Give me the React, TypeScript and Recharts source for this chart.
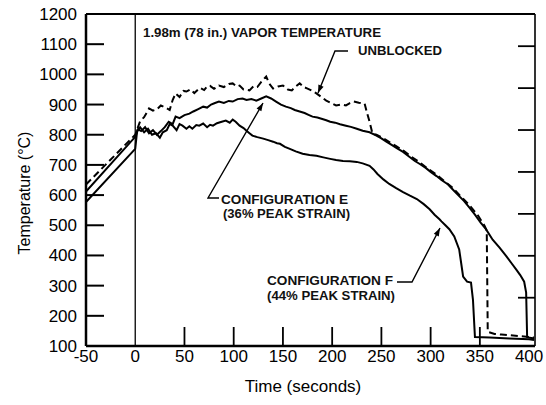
import React from 'react';
import { LineChart, Line, XAxis, YAxis, ReferenceLine } from 'recharts';

const timeTicks = [-50, 0, 50, 100, 150, 200, 250, 300, 350, 400];
const innerTimeTicks = [50, 100, 150, 200, 250, 300, 350];
const tempTicks = [100, 200, 300, 400, 500, 600, 700, 800, 900, 1000, 1100, 1200];
const fahrenheitTicks = [500, 750, 1000, 1250, 1500, 1750, 2000];

const unblocked: [number, number][] = [
  [-50, 635], [0, 800], [2, 818], [5, 845], [9, 858], [14, 887], [18, 880], [22, 884], [26, 897], [31, 890],
  [35, 882], [38, 915], [41, 937], [45, 925], [49, 945], [52, 943], [56, 950], [60, 938], [63, 947], [66, 955],
  [70, 948], [73, 960], [76, 962], [80, 952], [85, 963], [90, 958], [95, 968], [99, 970], [103, 960], [106, 963],
  [110, 950], [116, 947], [120, 960], [124, 958], [128, 975], [133, 993], [136, 970], [140, 953], [145, 960],
  [150, 963], [155, 950], [159, 947], [163, 960], [167, 970], [171, 958], [175, 953], [180, 945], [184, 937],
  [189, 925], [194, 913], [199, 905], [204, 897], [209, 900], [214, 897], [218, 905], [222, 910], [227, 906],
  [233, 903], [235, 877], [238, 843], [241, 803], [245, 800], [250, 792], [255, 782], [260, 772], [265, 762],
  [272, 748], [280, 728], [289, 708], [297, 688], [306, 668], [314, 646], [322, 625], [330, 598], [339, 568],
  [348, 533], [355, 497], [357, 482], [358, 147], [365, 140], [372, 138], [380, 136], [390, 133], [400, 130], [405, 128],
];

const configE: [number, number][] = [
  [-50, 612], [0, 793], [3, 818], [6, 812], [10, 825], [14, 805], [18, 815], [22, 800], [26, 812], [30, 825],
  [34, 843], [38, 835], [41, 860], [45, 855], [50, 865], [55, 870], [59, 877], [64, 885], [69, 893], [73, 890],
  [77, 900], [81, 905], [85, 910], [90, 905], [95, 912], [99, 910], [104, 918], [109, 920], [113, 915], [118, 918],
  [123, 913], [128, 920], [133, 927], [138, 920], [143, 910], [148, 900], [153, 893], [158, 888], [162, 882],
  [167, 877], [172, 872], [176, 866], [180, 860], [185, 857], [190, 852], [194, 848], [198, 843], [203, 840],
  [208, 835], [214, 830], [219, 826], [225, 820], [231, 813], [238, 808], [245, 797], [250, 788], [255, 777],
  [260, 767], [266, 755], [272, 743], [278, 728], [284, 713], [289, 703], [295, 690], [300, 677], [306, 663],
  [311, 650], [317, 637], [322, 620], [328, 600], [334, 580], [339, 560], [345, 535], [351, 508], [356, 488],
  [363, 452], [370, 426], [377, 397], [382, 375], [387, 353], [391, 335], [395, 313], [397, 277], [398, 130],
  [401, 127], [405, 125],
];

const configF: [number, number][] = [
  [-50, 577], [0, 753], [2, 815], [5, 825], [9, 808], [13, 820], [17, 800], [21, 805], [25, 790], [28, 808],
  [32, 815], [35, 835], [38, 830], [42, 815], [45, 835], [48, 830], [52, 820], [55, 828], [58, 820], [62, 832],
  [65, 830], [69, 837], [73, 825], [76, 833], [79, 830], [83, 838], [87, 842], [92, 847], [96, 840], [99, 850],
  [102, 843], [106, 830], [110, 822], [113, 813], [116, 805], [119, 797], [124, 792], [130, 787], [135, 782],
  [140, 777], [144, 772], [147, 770], [152, 760], [157, 753], [163, 745], [170, 737], [177, 733], [184, 730],
  [191, 725], [198, 720], [204, 716], [211, 713], [218, 712], [225, 710], [231, 705], [238, 697], [242, 685],
  [246, 670], [252, 652], [258, 637], [265, 623], [272, 610], [279, 598], [286, 587], [293, 570], [299, 553],
  [304, 535], [309, 520], [311, 513], [315, 500], [319, 487], [324, 463], [329, 420], [331, 375], [333, 330],
  [337, 313], [341, 310], [343, 253], [345, 130], [360, 128], [380, 125], [400, 122], [405, 120],
];

const rows = (pairs: [number, number][]) => pairs.map(([t, v]) => ({ t, v }));

const FONT = '"Liberation Sans", Arial, sans-serif';

const LeftTick = (props: any) => {
  const { x, y, payload } = props;
  return (
    <g>
      <line x1={x} x2={x + 18} y1={y} y2={y} stroke="#000" strokeWidth={2} />
      <text x={x - 9} y={y + 6} textAnchor="end" fontFamily={FONT} fontSize={17} fill="#000">
        {payload.value}
      </text>
    </g>
  );
};

const BottomTick = (props: any) => {
  const { x, y, payload } = props;
  const inner = innerTimeTicks.includes(payload.value);
  return (
    <g>
      {inner && <line x1={x} x2={x} y1={y} y2={y - 19} stroke="#000" strokeWidth={1.8} />}
      <text x={x} y={y + 16} textAnchor="middle" fontFamily={FONT} fontSize={17} fill="#000">
        {payload.value}
      </text>
    </g>
  );
};

const RightTick = (props: any) => {
  const { x, y } = props;
  return <line x1={x} x2={x - 17} y1={y} y2={y} stroke="#000" strokeWidth={1.8} />;
};

const Leader = ({ pts }: { pts: [number, number][] }) => {
  const [x1, y1] = pts[pts.length - 2];
  const [x2, y2] = pts[pts.length - 1];
  const dx = x2 - x1;
  const dy = y2 - y1;
  const len = Math.hypot(dx, dy);
  const ux = dx / len;
  const uy = dy / len;
  const hl = 8;
  const hw = 2.8;
  const bx = x2 - ux * hl;
  const by = y2 - uy * hl;
  const head = `${x2},${y2} ${bx - uy * hw},${by + ux * hw} ${bx + uy * hw},${by - ux * hw}`;
  return (
    <g>
      <polyline points={pts.map((p) => p.join(',')).join(' ')} fill="none" stroke="#000" strokeWidth={1.4} />
      <polygon points={head} fill="#000" />
    </g>
  );
};

const Note = ({ x, y, w, size = 13.5, children }: { x: number; y: number; w: number; size?: number; children: string }) => (
  <text
    x={x}
    y={y}
    fontFamily={FONT}
    fontWeight="bold"
    fontSize={size}
    textLength={w}
    lengthAdjust="spacingAndGlyphs"
    fill="#111"
  >
    {children}
  </text>
);

export default function App() {
  return (
    <div style={{ position: 'absolute', left: 0, top: 0, width: 546, height: 405, background: '#fff' }}>
      <LineChart width={546} height={405} margin={{ top: 14, right: 0, bottom: 0, left: 0 }}>
        <XAxis
          xAxisId="t"
          type="number"
          dataKey="t"
          domain={[-50, 406]}
          ticks={timeTicks}
          interval={0}
          allowDataOverflow
          height={59}
          tickSize={0}
          tickMargin={0}
          tickLine={false}
          tick={<BottomTick />}
          axisLine={{ stroke: '#000', strokeWidth: 2.5 }}
        />
        <YAxis
          yAxisId="c"
          type="number"
          domain={[100, 1200]}
          ticks={tempTicks}
          interval={0}
          allowDataOverflow
          width={86}
          tickSize={0}
          tickMargin={0}
          tickLine={false}
          tick={<LeftTick />}
          axisLine={{ stroke: '#000', strokeWidth: 2.5 }}
        />
        <YAxis
          yAxisId="f"
          orientation="right"
          type="number"
          domain={[212, 2192]}
          ticks={fahrenheitTicks}
          interval={0}
          allowDataOverflow
          width={11}
          tickSize={0}
          tickMargin={0}
          tickLine={false}
          tick={<RightTick />}
          axisLine={{ stroke: '#000', strokeWidth: 1.6 }}
        />
        <ReferenceLine xAxisId="t" yAxisId="c" y={1200} stroke="#000" strokeWidth={2.2} />
        <ReferenceLine xAxisId="t" yAxisId="c" x={0} stroke="#000" strokeWidth={1.3} />
        <Line
          xAxisId="t"
          yAxisId="c"
          data={rows(configF)}
          dataKey="v"
          stroke="#000"
          strokeWidth={2}
          dot={false}
          type="linear"
          isAnimationActive={false}
        />
        <Line
          xAxisId="t"
          yAxisId="c"
          data={rows(configE)}
          dataKey="v"
          stroke="#000"
          strokeWidth={2}
          dot={false}
          type="linear"
          isAnimationActive={false}
        />
        <Line
          xAxisId="t"
          yAxisId="c"
          data={rows(unblocked)}
          dataKey="v"
          stroke="#000"
          strokeWidth={2}
          strokeDasharray="7 4"
          dot={false}
          type="linear"
          isAnimationActive={false}
        />
      </LineChart>
      <svg width={546} height={405} style={{ position: 'absolute', left: 0, top: 0, pointerEvents: 'none' }}>
        <Note x={143} y={37} w={238}>1.98m (78 in.) VAPOR TEMPERATURE</Note>
        <Note x={358} y={55} w={84}>UNBLOCKED</Note>
        <Note x={221} y={204} w={127} size={12}>CONFIGURATION E</Note>
        <Note x={223} y={218} w={127} size={12}>(36% PEAK STRAIN)</Note>
        <Note x={267} y={285} w={126} size={12.5}>CONFIGURATION F</Note>
        <Note x={267} y={300} w={128} size={12.5}>(44% PEAK STRAIN)</Note>
        <Leader pts={[[348, 51], [335, 51], [318, 93]]} />
        <Leader pts={[[219, 198], [208, 198], [263, 103]]} />
        <Leader pts={[[397, 282], [412, 282], [440, 228]]} />
        <text x={303} y={392} textAnchor="middle" fontFamily={FONT} fontSize={17} fill="#000">
          Time (seconds)
        </text>
        <text
          x={30}
          y={193}
          textAnchor="middle"
          fontFamily={FONT}
          fontSize={16}
          fill="#000"
          transform="rotate(-90 30 193)"
        >
          Temperature (°C)
        </text>
      </svg>
    </div>
  );
}
